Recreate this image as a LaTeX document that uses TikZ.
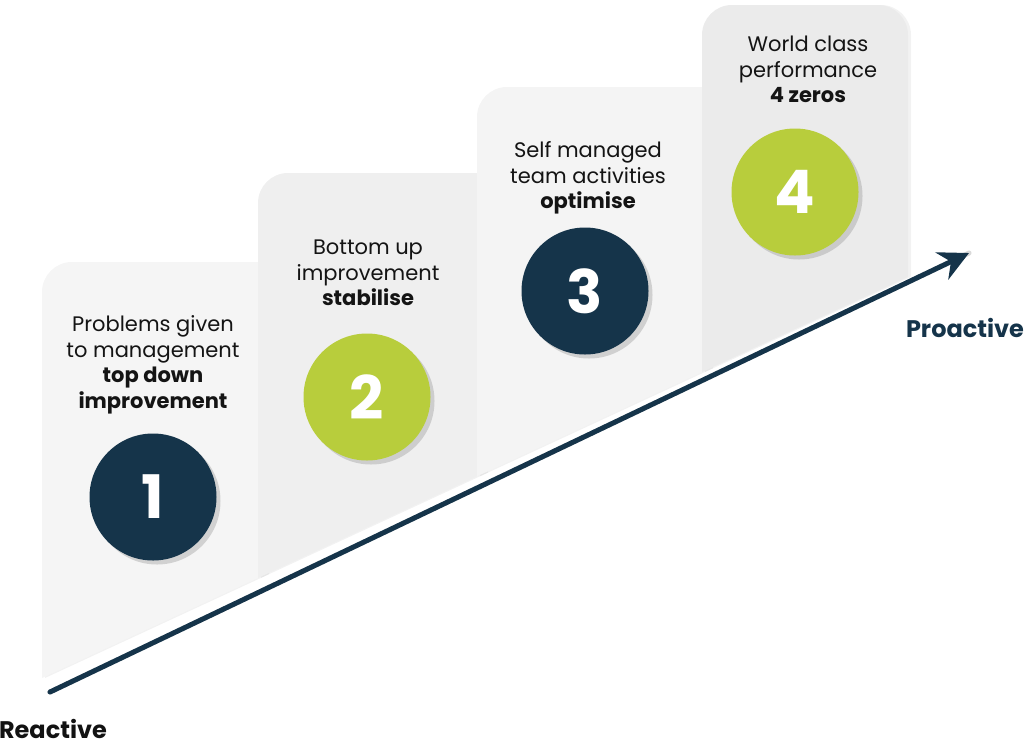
\documentclass[tikz,border=0pt]{standalone}
\usepackage{fontspec}
\setmainfont{Poppins}
\usetikzlibrary{arrows.meta,shadows}
\definecolor{navy}{HTML}{15344A}
\definecolor{lime}{HTML}{B8CD3C}
\definecolor{panelA}{HTML}{F5F5F5}
\definecolor{panelB}{HTML}{EFEFEF}
\definecolor{panelC}{HTML}{F4F4F4}
\definecolor{panelD}{HTML}{EBEBEB}
\tikzset{
    panel/.style={drop shadow={opacity=0.10,shadow xshift=3pt,shadow yshift=0pt}},
    stage/.style={circle,minimum size=127pt,inner sep=0pt,text=white,font=\fontsize{60}{60}\selectfont\bfseries,
        drop shadow={opacity=0.30,shadow xshift=4pt,shadow yshift=-4pt}},
    stagetext/.style={align=center,text=black!92,font=\fontsize{21}{25.5}\selectfont},
    endtext/.style={font=\fontsize{24}{28}\selectfont\bfseries}
}
\begin{document}
\begin{tikzpicture}[x=1pt,y=-1pt]
                \useasboundingbox (0,0) rectangle (1024,753);
                \fill[panelA,panel] (42,678) -- (42,292) arc[start angle=180,end angle=270,radius=30] -- (266,262) -- (266,574.2) -- cycle;
                \fill[panelB,panel] (258,577.9) -- (258,203) arc[start angle=180,end angle=270,radius=30] -- (485,173) -- (485,472.6) -- cycle;
                \fill[panelC,panel] (477,476.3) -- (477,117) arc[start angle=180,end angle=270,radius=30] -- (710,87) -- (710,368.3) -- cycle;
                \fill[panelD,panel] (702,372) -- (702,35) arc[start angle=180,end angle=270,radius=30] -- (878,5) arc[start angle=270,end angle=360,radius=30] -- (908,277) -- cycle;

                \node[stagetext] (t1) at (153,365) {Problems given\\to management\\\textbf{top down}\\\textbf{improvement}};
                \node[stagetext] (t2) at (368,273) {Bottom up\\improvement\\\textbf{stabilise}};
                \node[stagetext] (t3) at (588,178) {Self managed\\team activities\\\textbf{optimise}};
                \node[stagetext] (t4) at (808,69.5) {World class\\performance\\\textbf{4 zeros}};

                \node[stage,fill=navy] (c1) at (153,497) {1};
                \node[stage,fill=lime] (c2) at (367,397) {2};
                \node[stage,fill=navy] (c3) at (585,291) {3};
                \node[stage,fill=lime] (c4) at (795,192) {4};

                \coordinate (reactive end) at (50,692);
                \coordinate (proactive end) at (969,253);
                \draw[black!25,line width=5pt,line cap=round,opacity=0.6,xshift=2pt,yshift=-3pt] (reactive end) -- (proactive end);
                \draw[navy,line width=5pt,line cap=round,-{Stealth[length=30pt,width=30pt,inset=10pt]}] (reactive end) -- (proactive end);

                \node[endtext,text=black!93] (reactive) at (53,729) {Reactive};
                \node[endtext,text=navy] (proactive) at (965,328) {Proactive};
\end{tikzpicture}
\end{document}
